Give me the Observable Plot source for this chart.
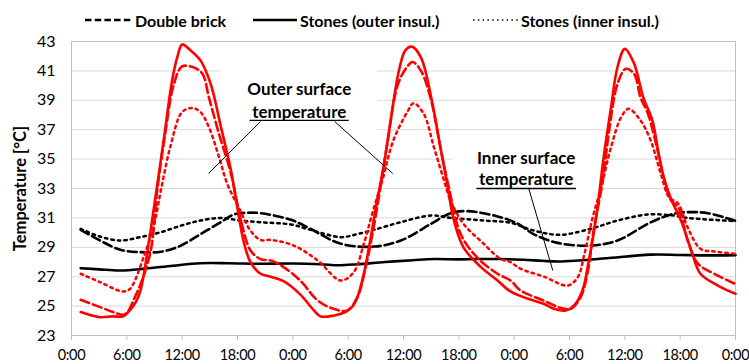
<!DOCTYPE html>
<html>
<head>
<meta charset="utf-8">
<script src="https://cdn.jsdelivr.net/npm/d3@7"></script>
<script src="https://cdn.jsdelivr.net/npm/@observablehq/plot@0.6"></script>
<style>
  html, body { margin: 0; padding: 0; background: #fff; }
  #wrap { position: relative; width: 749px; height: 364px; font-family: Lato, "Open Sans", sans-serif; }
  #legend { position: absolute; left: 0; top: 0; width: 749px; height: 36px; font-weight: bold; font-size: 16px; color: #000; }
  .li { position: absolute; top: 9px; display: flex; align-items: center; height: 22px; white-space: nowrap; }
  .li svg { margin-right: 3px; }
  #chart { position: absolute; left: 0; top: 0; }
  #chart svg { overflow: visible; }
  g[aria-label="x-axis tick label"] text { letter-spacing: -0.35px; }
</style>
</head>
<body>
<div id="wrap">
  <div id="chart"></div>
  <div id="legend"></div>
</div>
<script>
// ---- Axis ticks / labels ----
const hourTicks = [0, 6, 12, 18, 24, 30, 36, 42, 48, 54, 60, 66, 72];
const hourLabels = ["0:00", "6:00", "12:00", "18:00"];
const tempTicks = [23, 25, 27, 29, 31, 33, 35, 37, 39, 41, 43];

// ---- Series names ----
const seriesNames = ["Double brick", "Stones (outer insul.)", "Stones (inner insul.)"];

// ---- Outer surface temperature [hour, °C] ----
const outerDoubleBrick = [[1,25.43],[3.1,24.93],[4.5,24.6],[5.6,24.41],[6.2,24.7],[6.7,25.38],[7.5,26.5],[8.6,28.8],[9.3,32.9],[10.2,36.9],[11.1,40.1],[12,41.3],[13.2,41.25],[14.2,40.8],[14.9,39.2],[16,36.7],[17.3,34.0],[18.3,31.05],[19.4,28.8],[20.5,28.2],[21.6,28.1],[23,27.65],[24.8,26.74],[26.7,25.38],[28.4,24.82],[29.9,24.7],[31,25.61],[31.9,27.65],[32.7,30.14],[33.5,33.1],[34.3,36.3],[35.4,40.1],[36.5,41.37],[37,41.6],[37.9,41.0],[39,39.0],[40,35.8],[40.9,33.1],[42.2,29.9],[44,28.3],[46.2,27.2],[47.6,26.74],[48.7,26.06],[51.2,25.38],[53,24.88],[54.1,24.8],[55.2,25.6],[56,27.4],[56.6,30.1],[57.6,33.5],[58.3,36.95],[59.2,40.1],[60.1,41.14],[61,40.8],[61.7,39.2],[62.5,38.1],[63.4,36.0],[64.2,33.8],[65,32.2],[65.8,31.7],[66.8,29.5],[67.9,27.9],[69.7,27.2],[72,26.5]];
const outerStonesOuterInsul = [[1,24.6],[2,24.4],[3,24.25],[4.5,24.3],[5.6,24.3],[6.3,24.7],[7,25.3],[7.5,26.1],[8.4,29.4],[9.1,32.4],[10,36.3],[10.9,40.3],[11.5,42.0],[12,42.8],[12.9,42.4],[14,41.7],[15.1,40.1],[16.2,37.2],[17.3,34.2],[17.8,32.4],[18.7,29.3],[19.4,28.0],[20.5,27.2],[21.6,27.0],[23,26.7],[24.8,25.8],[26.3,24.7],[27,24.3],[28.4,24.35],[29.7,24.6],[30.5,25.0],[31,25.6],[31.7,27.2],[32.4,29.5],[33,31.7],[33.9,34.7],[34.6,37.6],[35.5,41.0],[36.2,42.4],[36.9,42.65],[37.9,41.9],[39,39.2],[40,35.8],[40.8,33.1],[41.4,31.0],[42.5,29.0],[44.4,27.65],[46.2,26.74],[47.6,26.0],[49.5,25.5],[51.2,25.16],[52.3,24.82],[53.6,24.7],[54.5,25.04],[55.4,26.06],[56.1,28.1],[56.9,31.05],[57.7,35.1],[58.5,38.5],[59.2,41.25],[60,42.5],[61,41.5],[62,39.2],[63,37.6],[63.6,35.6],[64.2,33.8],[65,32.3],[66.1,30.8],[67.2,28.8],[68.2,27.2],[70.1,26.4],[72,25.84]];
const outerStonesInnerInsul = [[1,27.2],[3.1,26.63],[5.5,26.0],[6.2,26.1],[6.7,26.5],[7.8,28.3],[8.9,30.4],[9.7,32.9],[10.7,35.8],[12,38.2],[13.1,38.48],[14,38.19],[14.9,37.17],[16,35.13],[16.9,33.3],[18.3,31.5],[19.4,30.14],[20.5,29.5],[21.6,29.5],[24.1,29.12],[26.7,28.1],[29.2,26.74],[30.6,27.31],[31.7,29.24],[32.7,31.5],[33.7,33.54],[34.9,36.27],[36.5,38.3],[37.1,38.8],[38.2,38.08],[39.3,35.8],[40.4,33.54],[41.1,32.18],[42.5,30.6],[44.7,29.24],[46.5,28.22],[47.6,27.99],[48.7,27.54],[51.2,27.01],[53.8,26.4],[54.9,26.97],[55.6,28.5],[56.5,31.0],[57.4,33.0],[58.5,35.8],[59.6,37.85],[60.4,38.42],[61.7,37.63],[62.8,36.27],[63.9,34.0],[64.8,32.4],[65.8,31.96],[66.8,30.37],[68.2,28.9],[69.7,28.71],[72,28.56]];

// ---- Inner surface temperature [hour, °C] ----
const innerDoubleBrick = [[1,30.19],[3.1,29.46],[5.3,28.83],[7.5,28.67],[9.7,28.7],[11.8,29.1],[14,29.9],[16.2,30.71],[17.6,31.23],[19.1,31.35],[20.5,31.32],[23.8,30.87],[25.9,30.26],[29.2,29.24],[32.8,29.05],[35.7,29.46],[39,30.6],[41.1,31.32],[42.9,31.46],[46.5,31.05],[48.4,30.6],[50.1,29.9],[52.7,29.3],[56.3,29.12],[59.2,29.46],[62.8,30.7],[65.3,31.28],[66.8,31.39],[69,31.32],[72,30.8]];
const innerStonesOuterInsul = [[1,27.58],[3,27.5],[5.3,27.42],[8,27.55],[11,27.75],[14,27.92],[17,27.92],[20.5,27.88],[24,27.9],[27,27.85],[29,27.78],[31,27.85],[34,28.0],[37,28.12],[39.3,28.2],[42,28.18],[44,28.2],[46.5,28.2],[49,28.15],[51,28.08],[52.8,28.03],[55,28.1],[58,28.25],[62.8,28.5],[66,28.48],[69,28.45],[72,28.47]];
const innerStonesInnerInsul = [[1,30.26],[3,29.75],[5.3,29.46],[7.5,29.7],[9.7,30.03],[12,30.5],[14,30.82],[16.2,31.0],[18.3,30.82],[20.5,30.7],[23.8,30.55],[25.9,30.19],[29.2,29.69],[31,29.9],[32.8,30.19],[35.7,30.71],[39,31.16],[41.1,31.0],[44.7,30.82],[47.6,30.67],[50.1,30.14],[53,29.85],[56.3,30.26],[59.2,30.82],[62.5,31.23],[65.3,31.16],[66.8,31.0],[72,30.78]];

// ---- Annotations (data coordinates: hour, °C) ----
const annotationLines = [
  {text: "Outer surface", h: 24.7, t: 39.7},
  {text: "temperature",   h: 24.7, t: 38.2},
  {text: "Inner surface", h: 49.3, t: 35.07},
  {text: "temperature",   h: 49.3, t: 33.58}
];
const annotationBoxes = [
  {h1: 16.2, h2: 33.2, t1: 35.5, t2: 41.6},
  {h1: 41.4, h2: 57.7, t1: 32.0, t2: 35.8}
];
const underlines = [
  {h1: 19.3, h2: 30.05, t: 37.63},
  {h1: 43.9, h2: 54.7, t: 33.0}
];
const leaders = [
  {h1: 20.5, t1: 37.56, h2: 14.86, t2: 34.02},
  {h1: 28.53, t1: 37.56, h2: 34.83, t2: 34.02},
  {h1: 49.58, t1: 33.0, h2: 52.19, t2: 27.42}
];

// ---- Styles per series ----
const dashes = {"Double brick": "9,4", "Stones (outer insul.)": null, "Stones (inner insul.)": "2.5,4"};
const widths = {"Double brick": 2.6, "Stones (outer insul.)": 2.6, "Stones (inner insul.)": 2.5};

const toRows = (arr) => arr.map(([h, t]) => ({h, t}));
const outerSeries = [outerDoubleBrick, outerStonesOuterInsul, outerStonesInnerInsul];
const innerSeries = [innerDoubleBrick, innerStonesOuterInsul, innerStonesInnerInsul];

const lineMarks = [];
seriesNames.forEach((name, i) => {
  lineMarks.push(Plot.line(toRows(innerSeries[i]), {x: "h", y: "t", stroke: "#000", strokeWidth: widths[name], strokeDasharray: dashes[name], curve: "catmull-rom"}));
});
seriesNames.forEach((name, i) => {
  lineMarks.push(Plot.line(toRows(outerSeries[i]), {x: "h", y: "t", stroke: "#ff0000", strokeWidth: widths[name], strokeDasharray: dashes[name], curve: "catmull-rom"}));
});

const chart = Plot.plot({
  width: 749,
  height: 364,
  marginLeft: 71,
  marginRight: 14,
  marginTop: 41,
  marginBottom: 29,
  style: {fontFamily: "Lato, 'Open Sans', sans-serif", fontSize: "16px", color: "#000", background: "#fff"},
  x: {domain: [0, 72]},
  y: {domain: [23, 43]},
  marks: [
    Plot.gridY(tempTicks, {stroke: "#d9d9d9", strokeOpacity: 1, strokeWidth: 1}),
    Plot.rect(annotationBoxes, {x1: "h1", x2: "h2", y1: "t1", y2: "t2", fill: "#fff"}),
    Plot.frame({stroke: "#c0c0c0", strokeWidth: 1}),
    Plot.axisX(hourTicks, {tickSize: 5, tickPadding: 9, stroke: "#c0c0c0", fill: "#000", tickFormat: (h) => hourLabels[(h / 6) % 4], label: null, fontSize: 14.5}),
    Plot.axisY(tempTicks, {tickSize: 0, tickPadding: 16, fill: "#000", label: "Temperature [°C]", labelAnchor: "center", labelArrow: "none", labelOffset: 57, fontSize: 16}),
    ...lineMarks,
    Plot.link(leaders, {x1: "h1", y1: "t1", x2: "h2", y2: "t2", stroke: "#000", strokeWidth: 1}),
    Plot.link(underlines, {x1: "h1", x2: "h2", y1: "t", y2: "t", stroke: "#000", strokeWidth: 1.3}),
    Plot.text(annotationLines, {x: "h", y: "t", text: "text", fontWeight: "bold", fontSize: 17, fill: "#000", textAnchor: "middle"})
  ]
});
document.getElementById("chart").appendChild(chart);
// Bold axis title
chart.querySelectorAll('[aria-label="y-axis label"] text, [aria-label="y-axis label"]').forEach(el => el.setAttribute("font-weight", "bold"));
chart.querySelectorAll('[aria-label="y-axis label"]').forEach(el => el.setAttribute("font-size", "16.5"));

// ---- Legend ----
const legendItems = [
  {name: seriesNames[0], left: 85, dash: "6.5,3.2", w: 47, sw: 2.5},
  {name: seriesNames[1], left: 253, dash: null, w: 44, sw: 2.5},
  {name: seriesNames[2], left: 473, dash: "1.5,3.3", w: 45, sw: 1.6}
];
const legend = document.getElementById("legend");
legendItems.forEach(it => {
  const div = document.createElement("div");
  div.className = "li";
  div.style.left = it.left + "px";
  div.innerHTML = `<svg width="${it.w}" height="6"><line x1="0" x2="${it.w}" y1="3" y2="3" stroke="#000" stroke-width="${it.sw}" ${it.dash ? `stroke-dasharray="${it.dash}"` : ""}/></svg><span>${it.name}</span>`;
  legend.appendChild(div);
});
</script>
</body>
</html>
